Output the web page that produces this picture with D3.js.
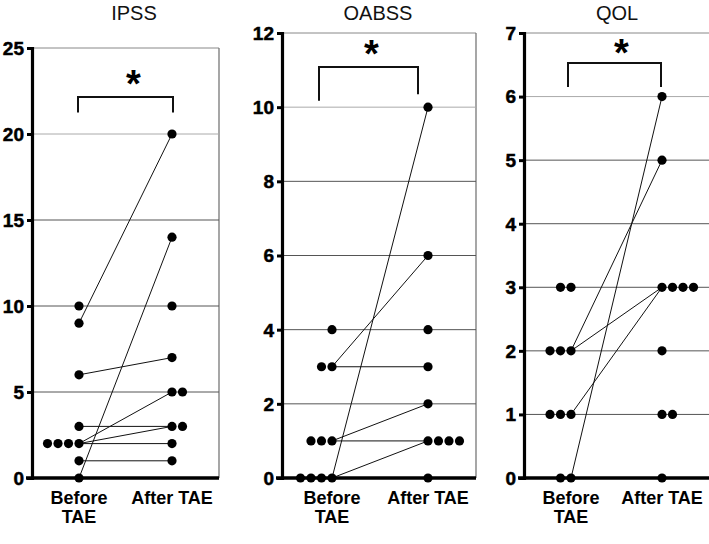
<!DOCTYPE html>
<html><head><meta charset="utf-8">
<script src="https://cdn.jsdelivr.net/npm/d3@7"></script>
<style>
body{margin:0;background:#fff;}
svg{display:block;font-family:"Liberation Sans",Arial,sans-serif;}
</style></head>
<body>
<svg id="c" width="709" height="544"></svg>
<script>
// ---- data ----
const titles = ["IPSS", "OABSS", "QOL"];
const groups = ["Before", "After"];
const groupLabels = [["Before", "TAE"], ["After TAE"]];

const ipssTicks = [0, 5, 10, 15, 20, 25];
const ipssBefore = [10, 9, 6, 3, 2, 2, 2, 2, 1, 0];
const ipssAfter = [20, 14, 10, 7, 5, 5, 3, 3, 2, 1];
const ipssPairs = [[9, 20], [0, 14], [6, 7], [2, 5], [2, 3], [3, 3], [2, 2], [1, 1]];

const oabssTicks = [0, 2, 4, 6, 8, 10, 12];
const oabssBefore = [4, 3, 3, 1, 1, 1, 0, 0, 0, 0];
const oabssAfter = [10, 6, 4, 3, 2, 1, 1, 1, 1, 0];
const oabssPairs = [[0, 10], [3, 6], [3, 3], [1, 2], [1, 1], [0, 1]];

const qolTicks = [0, 1, 2, 3, 4, 5, 6, 7];
const qolBefore = [3, 3, 2, 2, 2, 1, 1, 1, 0, 0];
const qolAfter = [6, 5, 3, 3, 3, 3, 2, 1, 1, 0];
const qolPairs = [[0, 6], [2, 5], [2, 3], [1, 3]];

// significance bracket: [top, leftBottom, rightBottom, asterisk centre] in data units
const ipssBracket = [22.15, 21.25, 21.25, 23.45];
const oabssBracket = [11.08, 10.17, 10.35, 11.68];
const qolBracket = [6.53, 6.15, 6.15, 6.82];

// ---- layout ----
const layout = [
  {x0: 32, x1: 219, top: 48, bottom: 478, cx: [79, 172], titleX: 134, bx: [-1, 1], ax: 8},
  {x0: 282, x1: 476, top: 33, bottom: 478, cx: [332, 428], titleX: 378, bx: [-13, -10], ax: 3},
  {x0: 524, x1: 715, top: 33, bottom: 478, cx: [571, 662], titleX: 617, bx: [-3, -1], ax: 7}
];
const panels = [
  {ticks: ipssTicks, before: ipssBefore, after: ipssAfter, pairs: ipssPairs, bracket: ipssBracket},
  {ticks: oabssTicks, before: oabssBefore, after: oabssAfter, pairs: oabssPairs, bracket: oabssBracket},
  {ticks: qolTicks, before: qolBefore, after: qolAfter, pairs: qolPairs, bracket: qolBracket}
];

const svg = d3.select("#c");
svg.append("rect").attr("width", 709).attr("height", 544).attr("fill", "#fff");
const R = 4.6, GAP = 10.5;

panels.forEach((p, i) => {
  const L = layout[i];
  const g = svg.append("g");
  const maxV = d3.max(p.ticks);
  const y = d3.scaleLinear().domain([0, maxV]).range([L.bottom, L.top]);
  const x = d3.scaleOrdinal().domain(groups).range(L.cx);

  // title
  g.append("text").attr("x", L.titleX).attr("y", 20).attr("text-anchor", "middle")
    .style("font-size", "20px").attr("fill", "#111").text(titles[i]);

  // plot frame (top + right)
  g.append("line").attr("x1", L.x0).attr("x2", L.x1).attr("y1", y(maxV)).attr("y2", y(maxV))
    .attr("stroke", "#888").attr("stroke-width", 1);
  g.append("line").attr("x1", L.x1).attr("x2", L.x1).attr("y1", y(maxV)).attr("y2", y(0))
    .attr("stroke", "#777").attr("stroke-width", 1.3);

  // gridlines
  const inner = p.ticks.filter(t => t > 0 && t < maxV);
  const topGrid = d3.max(inner);
  g.selectAll(".grid").data(inner).join("line")
    .attr("x1", L.x0).attr("x2", L.x1).attr("y1", d => y(d)).attr("y2", d => y(d))
    .attr("stroke", d => d === topGrid ? "#aaa" : "#555").attr("stroke-width", 1);

  // connecting lines
  g.selectAll(".pair").data(p.pairs).join("line")
    .attr("x1", x("Before")).attr("y1", d => y(d[0]))
    .attr("x2", x("After")).attr("y2", d => y(d[1]))
    .attr("stroke", "#111").attr("stroke-width", 1);

  // bracket
  const b = p.bracket;
  const bl = x("Before") + L.bx[0], br = x("After") + L.bx[1];
  g.append("path")
    .attr("d", `M${bl},${y(b[1])}V${y(b[0])}H${br}V${y(b[2])}`)
    .attr("fill", "none").attr("stroke", "#111").attr("stroke-width", 2);
  g.append("text").attr("x", (bl + br) / 2 + L.ax).attr("y", y(b[3]) + 22)
    .attr("text-anchor", "middle").style("font-size", "38px").style("font-weight", "bold").text("*");

  // dots (stack duplicates: before to the left, after to the right)
  function stack(vals, grp, dir) {
    const cnt = {};
    return vals.map(v => {
      const k = cnt[v] || 0; cnt[v] = k + 1;
      return {v, cx: x(grp) + dir * k * GAP};
    });
  }
  const dots = stack(p.before, "Before", -1).concat(stack(p.after, "After", 1));

  // axis (lines from d3 axis, labels drawn from the same scale)
  const yAxis = d3.axisLeft(y).tickValues(p.ticks).tickSize(5).tickFormat("");
  const ag = g.append("g").attr("transform", `translate(${L.x0},0)`).call(yAxis);
  ag.select(".domain").attr("stroke", "#000").attr("stroke-width", 3.2);
  ag.selectAll(".tick line").attr("stroke", "#000").attr("stroke-width", 3);
  g.selectAll(".ylab").data(p.ticks).join("text")
    .attr("x", L.x0 - 8).attr("y", d => y(d)).attr("dy", "0.36em")
    .attr("text-anchor", "end")
    .style("font-family", "Arial, 'Liberation Sans', sans-serif")
    .style("font-weight", "700").style("font-size", "19px").style("fill", "#000")
    .style("stroke", "#000").style("stroke-width", "0.5px")
    .text(d => d);

  g.append("line").attr("x1", L.x0 - 6).attr("x2", L.x1).attr("y1", y(0)).attr("y2", y(0))
    .attr("stroke", "#000").attr("stroke-width", 3.5);

  g.selectAll(".dot").data(dots).join("circle")
    .attr("cx", d => d.cx).attr("cy", d => y(d.v)).attr("r", R).attr("fill", "#000");

  // x labels
  groups.forEach((grp, j) => {
    groupLabels[j].forEach((t, k) => {
      g.append("text").attr("x", x(grp)).attr("y", y(0) + 26 + k * 19)
        .attr("text-anchor", "middle").style("font-size", "18px").style("font-weight", "bold").text(t);
    });
  });
});
</script>
</body></html>
